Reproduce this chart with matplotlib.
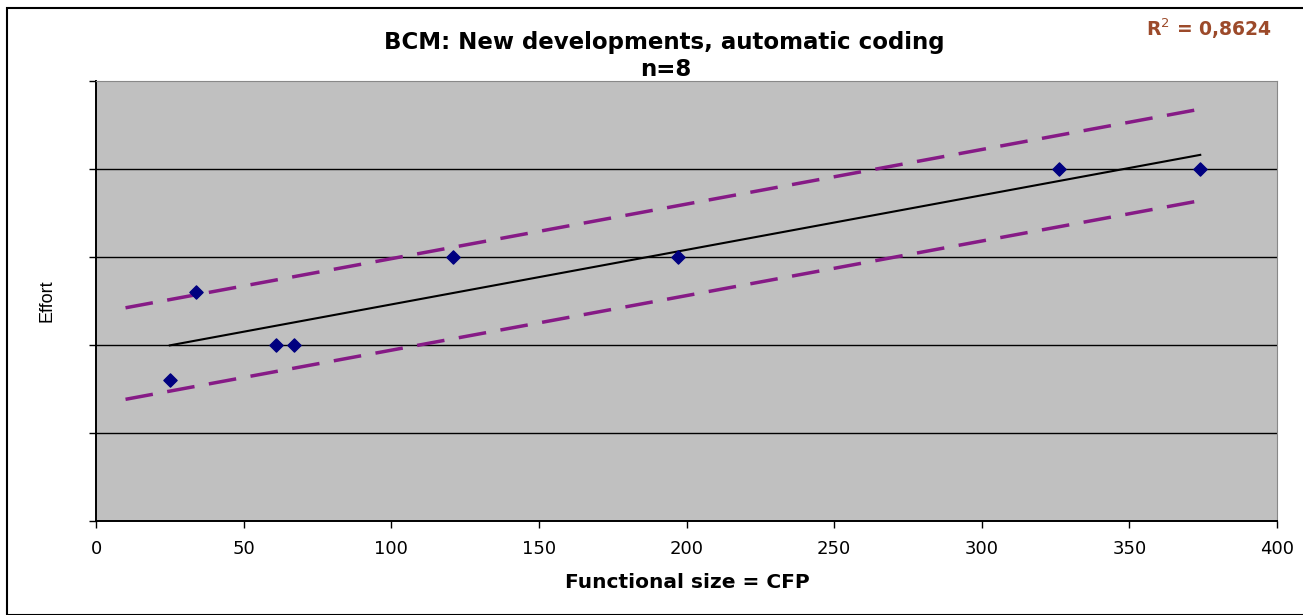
import numpy as np
from matplotlib import pyplot as plt
from matplotlib.patches import Rectangle

# size in CFP and effort level for the 8 projects
cfp = [25, 34, 61, 67, 121, 197, 326, 374]
effort = [1.6, 2.6, 2.0, 2.0, 3.0, 3.0, 4.0, 4.0]

x_ticks = [0, 50, 100, 150, 200, 250, 300, 350, 400]
y_ticks = [0, 1, 2, 3, 4, 5]

# dashed band around the trend line
band_x = [10, 374]
band_width = 0.52

plt.rcParams['font.family'] = ['DejaVu Sans']

# least squares fit
slope, intercept = np.polyfit(cfp, effort, 1)
r2 = np.corrcoef(cfp, effort)[0, 1] ** 2

W, H = 1303, 615
fig = plt.figure(figsize=(W / 100, H / 100), dpi=100)
fig.patches.append(Rectangle((7 / W, 0), 1.2, 1 - 8 / H, transform=fig.transFigure,
                             fill=False, edgecolor='black', linewidth=1.5))

ax = fig.add_axes([96 / W, (H - 521) / H, (1277 - 96) / W, (521 - 81) / H])
ax.set_facecolor('#c0c0c0')

for yv in y_ticks[1:-1]:
    ax.axhline(yv, color='black', linewidth=1, zorder=1)

# trend line over the data range
fit_x = np.array([min(cfp), max(cfp)])
ax.plot(fit_x, slope * fit_x + intercept, color='black', linewidth=1.5, zorder=2)

# upper and lower dashed limits
bx = np.array(band_x)
for sign in (1, -1):
    ax.plot(bx, slope * bx + intercept + sign * band_width, color='#861a86',
            linewidth=2.5, dashes=(8, 4.2), zorder=2)

ax.scatter(cfp, effort, marker='D', s=45, color='#000080', zorder=3)

ax.set_xlim(0, 400)
ax.set_ylim(0, 5)
ax.set_xticks(x_ticks)
ax.set_xticklabels([str(t) for t in x_ticks], fontsize=13)
ax.set_yticks(y_ticks)
ax.set_yticklabels([])
ax.tick_params(direction='out', length=5, width=1, color='black', pad=9)
for side in ('top', 'right'):
    ax.spines[side].set_color('#888888')
    ax.spines[side].set_linewidth(0.8)
for side in ('left', 'bottom'):
    ax.spines[side].set_color('black')
    ax.spines[side].set_linewidth(1.4)

fig.text(664 / W, 1 - 42 / H, 'BCM: New developments, automatic coding',
         ha='center', va='center', fontsize=16.5, fontweight='bold')
fig.text(666 / W, 1 - 70 / H, 'n=8', ha='center', va='center',
         fontsize=16.5, fontweight='bold')
fig.text(1209 / W, 1 - 29 / H, 'R$^2$ = 0,8624', ha='center', va='center',
         fontsize=13.5, fontweight='bold', color='#9c4a2a')
fig.text(687 / W, 1 - 582 / H, 'Functional size = CFP', ha='center', va='center',
         fontsize=14.5, fontweight='bold')
fig.text(47 / W, 1 - 301 / H, 'Effort', ha='center', va='center', rotation=90,
         fontsize=13, family=['Liberation Sans', 'DejaVu Sans'])

fig.savefig('out.png', dpi=100)
